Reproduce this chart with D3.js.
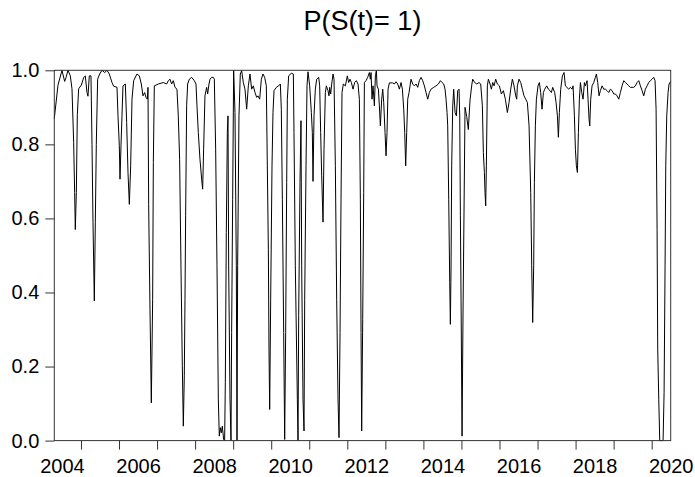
<!DOCTYPE html>
<html>
<head>
<meta charset="utf-8">
<script src="https://cdn.jsdelivr.net/npm/d3@7"></script>
<style>
  body { margin: 0; background: #fff; }
  text { font-family: "Liberation Sans", Arial, sans-serif; }
</style>
</head>
<body>
<script>
//======== smoothed regime probability P(S(t)=1) ========//
var titleText = 'P(S(t)= 1)';

var obsYear = [
  2004.299, 2004.396, 2004.501, 2004.571, 2004.606, 2004.659, 2004.720, 2004.764, 2004.808, 2004.834,
  2004.851, 2004.878, 2004.904, 2004.939, 2005.009, 2005.070, 2005.114, 2005.158, 2005.184, 2005.219,
  2005.263, 2005.290, 2005.316, 2005.351, 2005.377, 2005.403, 2005.438, 2005.491, 2005.552, 2005.623,
  2005.684, 2005.745, 2005.815, 2005.859, 2005.947, 2005.973, 2006.008, 2006.026, 2006.052, 2006.078,
  2006.104, 2006.166, 2006.201, 2006.236, 2006.271, 2006.306, 2006.341, 2006.385, 2006.472, 2006.534,
  2006.586, 2006.630, 2006.674, 2006.709, 2006.744, 2006.762, 2006.779, 2006.814, 2006.849, 2006.884,
  2006.902, 2006.928,
  2007.033, 2007.164, 2007.252, 2007.296, 2007.339, 2007.383, 2007.427, 2007.471, 2007.523, 2007.558,
  2007.593, 2007.628, 2007.664, 2007.690, 2007.716, 2007.734, 2007.751, 2007.777, 2007.804, 2007.848,
  2007.909, 2007.979, 2008.023, 2008.049, 2008.084, 2008.128, 2008.172, 2008.198, 2008.224, 2008.259,
  2008.303, 2008.330, 2008.365, 2008.391, 2008.435, 2008.478, 2008.505, 2008.540, 2008.575, 2008.610,
  2008.636, 2008.662, 2008.689, 2008.715, 2008.750, 2008.776, 2008.794, 2008.820, 2008.847, 2008.864,
  2008.882, 2008.917, 2008.943, 2008.960, 2008.987, 2009.013, 2009.048, 2009.083, 2009.101, 2009.118,
  2009.153, 2009.188, 2009.223, 2009.267, 2009.311, 2009.355, 2009.399, 2009.442, 2009.486, 2009.530,
  2009.574, 2009.618,
  2009.653, 2009.697, 2009.741, 2009.784, 2009.828, 2009.872, 2009.898, 2009.925, 2009.942, 2009.960,
  2009.986, 2010.021, 2010.047, 2010.074, 2010.135, 2010.196, 2010.240, 2010.266, 2010.293, 2010.328,
  2010.354, 2010.380, 2010.407, 2010.424, 2010.459, 2010.529, 2010.582, 2010.599, 2010.634, 2010.687,
  2010.705, 2010.722, 2010.757, 2010.783, 2010.801, 2010.836, 2010.862, 2010.880, 2010.915, 2010.941,
  2010.967, 2011.011, 2011.055, 2011.081, 2011.099, 2011.125, 2011.160, 2011.195, 2011.248, 2011.274,
  2011.300, 2011.327, 2011.362, 2011.388, 2011.423, 2011.449, 2011.493, 2011.519, 2011.537, 2011.563,
  2011.590, 2011.625, 2011.651, 2011.686, 2011.721, 2011.756, 2011.782, 2011.809, 2011.835, 2011.861,
  2011.896, 2011.949, 2012.001, 2012.036, 2012.072, 2012.107, 2012.150, 2012.194, 2012.238, 2012.282,
  2012.317, 2012.343, 2012.361, 2012.378,
  2012.405, 2012.431, 2012.449, 2012.492, 2012.536, 2012.580, 2012.606, 2012.624, 2012.650, 2012.676,
  2012.712, 2012.738, 2012.764, 2012.782, 2012.817, 2012.843, 2012.869, 2012.904, 2012.931, 2012.957,
  2012.992, 2013.018, 2013.044, 2013.071, 2013.106, 2013.193, 2013.237, 2013.281, 2013.325, 2013.369,
  2013.413, 2013.448, 2013.483, 2013.509, 2013.535, 2013.561, 2013.588, 2013.623, 2013.675, 2013.719,
  2013.763, 2013.807, 2013.851, 2013.894, 2013.938, 2013.982, 2014.026, 2014.070, 2014.114, 2014.157,
  2014.201, 2014.271, 2014.333, 2014.394, 2014.447, 2014.490, 2014.534, 2014.569, 2014.595, 2014.622,
  2014.639, 2014.666, 2014.692, 2014.709, 2014.727, 2014.744, 2014.771, 2014.797, 2014.832, 2014.867,
  2014.902, 2014.937, 2014.955, 2014.972, 2014.990, 2015.016,
  2015.042, 2015.068, 2015.094, 2015.139, 2015.181, 2015.226, 2015.271,
  2015.296, 2015.348, 2015.401, 2015.462, 2015.506, 2015.550, 2015.576, 2015.603, 2015.620, 2015.638,
  2015.655, 2015.681, 2015.708, 2015.751, 2015.787, 2015.822, 2015.857, 2015.900, 2015.944, 2015.997,
  2016.049, 2016.102, 2016.155, 2016.207, 2016.251, 2016.295, 2016.339, 2016.382, 2016.426, 2016.453,
  2016.470, 2016.514, 2016.558, 2016.601, 2016.645, 2016.689, 2016.733, 2016.777, 2016.821, 2016.847,
  2016.873, 2016.899, 2016.917, 2016.943, 2016.970, 2017.013, 2017.048, 2017.083, 2017.118, 2017.154,
  2017.189, 2017.241, 2017.285, 2017.329, 2017.364, 2017.399, 2017.451, 2017.487, 2017.522, 2017.548,
  2017.574, 2017.609, 2017.653, 2017.697, 2017.732,
  2017.820, 2017.864, 2017.907, 2017.934, 2017.969, 2017.995, 2018.021, 2018.048, 2018.074, 2018.100,
  2018.127, 2018.162, 2018.197, 2018.232, 2018.258, 2018.302, 2018.328, 2018.354, 2018.372, 2018.398,
  2018.433, 2018.477, 2018.521, 2018.547, 2018.582, 2018.617, 2018.652, 2018.696, 2018.740, 2018.784,
  2018.828, 2018.871, 2018.915, 2018.959, 2019.003, 2019.047, 2019.090, 2019.134, 2019.178, 2019.222,
  2019.266, 2019.309, 2019.353, 2019.397, 2019.441, 2019.485, 2019.529, 2019.572, 2019.616, 2019.660,
  2019.704, 2019.748, 2019.791, 2019.835, 2019.879, 2019.923, 2019.967, 2020.010, 2020.054, 2020.089,
  2020.116, 2020.142, 2020.159, 2020.186, 2020.212, 2020.265, 2020.300, 2020.326, 2020.352, 2020.370,
  2020.396, 2020.431, 2020.457, 2020.500
];

var probS1 = [
  0.87, 0.96, 1.00, 0.97, 0.98, 1.00, 0.985, 0.95, 0.805, 0.67,
  0.57, 0.67, 0.88, 0.95, 0.96, 0.98, 0.985, 0.94, 0.93, 0.985,
  0.985, 0.80, 0.59, 0.377, 0.59, 0.80, 0.976, 0.99, 1.00, 0.994,
  1.00, 0.99, 0.967, 0.957, 0.954, 0.877, 0.796, 0.706, 0.796, 0.877,
  0.958, 0.963, 0.859, 0.724, 0.638, 0.742, 0.922, 0.972, 0.99, 0.985,
  0.963, 0.931, 0.94, 0.927, 0.922, 0.954, 0.638, 0.355, 0.102, 0.382,
  0.751, 0.958,
  0.963, 0.967, 0.963, 0.972, 0.976, 0.963, 0.972, 0.954, 0.949, 0.877,
  0.76, 0.472, 0.202, 0.039, 0.175, 0.382, 0.607, 0.904, 0.963, 0.976,
  0.981, 0.972, 0.963, 0.904, 0.832, 0.76, 0.706, 0.679, 0.787, 0.931,
  0.954, 0.936, 0.963, 0.976, 0.981, 0.981, 0.976, 0.787, 0.472, 0.112,
  0.012, 0.035, 0.021, 0.039, 0.003, 0.0, 0.156, 0.562, 0.832, 0.877,
  0.472, 0.112, 0.0, 0.292, 0.652, 1.0, 0.886, 0.472, 0.0, 0.472,
  0.877, 0.99, 0.999, 0.967, 0.949, 0.895, 0.958, 0.99, 0.949, 0.958,
  0.94, 0.927,
  0.931, 0.922, 0.976, 0.99, 0.981, 0.958, 0.742, 0.517, 0.247, 0.084,
  0.382, 0.742, 0.886, 0.945, 0.954, 0.958, 0.963, 0.895, 0.652, 0.292,
  0.003, 0.292, 0.697, 0.922, 0.985, 0.992, 0.99, 0.832, 0.472, 0.112,
  0.0, 0.337, 0.697, 0.864, 0.472, 0.112, 0.026, 0.382, 0.742, 0.958,
  0.996, 0.958, 0.886, 0.832, 0.70, 0.877, 0.949, 0.976, 0.981, 0.958,
  0.832, 0.715, 0.59, 0.787, 0.94, 0.958, 0.945, 0.931, 0.954, 0.936,
  0.963, 0.99, 0.976, 0.742, 0.382, 0.112, 0.008, 0.292, 0.652, 0.94,
  0.963, 0.958, 0.985, 0.967, 0.976, 0.967, 0.949, 0.967, 0.972, 0.963,
  0.922, 0.652, 0.292, 0.026,
  0.328, 0.67, 0.967, 0.972, 0.981, 0.994, 0.976, 0.994, 0.922, 0.958,
  0.904, 0.985, 0.999, 0.958, 0.949, 0.904, 0.85, 0.922, 0.949, 0.913,
  0.832, 0.769, 0.832, 0.949, 0.966, 0.966, 0.963, 0.969, 0.963, 0.949,
  0.967, 0.949, 0.895, 0.832, 0.742, 0.832, 0.922, 0.94, 0.976, 0.963,
  0.958, 0.963, 0.954, 0.972, 0.981, 0.972, 0.958, 0.94, 0.922, 0.94,
  0.949, 0.954, 0.958, 0.963, 0.972, 0.967, 0.963, 0.949, 0.922, 0.886,
  0.85, 0.652, 0.427, 0.314, 0.472, 0.742, 0.904, 0.949, 0.886, 0.877,
  0.945, 0.949, 0.877, 0.607, 0.382, 0.012,
  0.35, 0.62, 0.90, 0.875, 0.84, 0.92, 0.96,
  0.976, 0.967, 0.963, 0.967, 0.963, 0.904, 0.778, 0.724, 0.67, 0.634,
  0.742, 0.958, 0.976, 0.963, 0.949, 0.967, 0.958, 0.976, 0.963, 0.958,
  0.936, 0.945, 0.922, 0.886, 0.913, 0.949, 0.976, 0.958, 0.931, 0.922,
  0.958, 0.976, 0.967, 0.949, 0.931, 0.922, 0.913, 0.85, 0.67, 0.472,
  0.319, 0.472, 0.697, 0.85, 0.922, 0.958, 0.967, 0.94, 0.895, 0.94,
  0.949, 0.958, 0.949, 0.945, 0.94, 0.954, 0.94, 0.913, 0.877, 0.819,
  0.886, 0.949, 0.985, 0.994, 0.958,
  0.949, 0.954, 0.949, 0.958, 0.877, 0.787, 0.742, 0.724, 0.832, 0.922,
  0.967, 0.94, 0.922, 0.967, 0.958, 0.972, 0.922, 0.868, 0.85, 0.922,
  0.958, 0.967, 0.981, 0.99, 0.967, 0.931, 0.945, 0.958, 0.949, 0.949,
  0.945, 0.94, 0.949, 0.945, 0.936, 0.936, 0.931, 0.922, 0.94, 0.958,
  0.972, 0.967, 0.963, 0.958, 0.954, 0.954, 0.954, 0.958, 0.967, 0.972,
  0.958, 0.945, 0.931, 0.949, 0.958, 0.967, 0.972, 0.976, 0.981, 0.972,
  0.895, 0.571, 0.247, 0.112, 0.0, 0.0, 0.0, 0.129, 0.472, 0.742,
  0.877, 0.94, 0.963, 0.97
];

var yTicks = [0, 0.2, 0.4, 0.6, 0.8, 1.0];
var yearTicks = d3.range(2005, 2021);            // tick marks at year starts
var yearLabels = [2004, 2006, 2008, 2010, 2012, 2014, 2016, 2018, 2020];

// margins and size
var W = 695, H = 477;
var margin = {top: 70.3, right: 24.3, bottom: 36.4, left: 54.3};
var width = W - margin.left - margin.right,
    height = H - margin.top - margin.bottom;

var data = obsYear.map(function(t, i) { return {t: t, p: probS1[i]}; });

var x = d3.scaleLinear()
  .domain([obsYear[0], obsYear[obsYear.length - 1]])
  .range([0, width]);

var y = d3.scaleLinear()
  .domain([0, 1])
  .range([height, 0]);

var svg = d3.select('body').append('svg')
  .attr('width', W)
  .attr('height', H);

var g = svg.append('g')
  .attr('transform', 'translate(' + margin.left + ',' + margin.top + ')');

// title
svg.append('text')
  .attr('x', margin.left + width / 2)
  .attr('y', 30)
  .attr('text-anchor', 'middle')
  .style('font-size', '27px')
  .style('fill', '#000')
  .text(titleText);

// y axis
var yAxis = g.append('g')
  .call(d3.axisLeft(y).tickValues(yTicks).tickFormat(d3.format('.1f'))
    .tickSize(9).tickPadding(6).tickSizeOuter(0));

// x axis: tick marks at year boundaries
var xTickAxis = g.append('g')
  .attr('transform', 'translate(0,' + height + ')')
  .call(d3.axisBottom(x).tickValues(yearTicks).tickFormat('')
    .tickSize(9).tickSizeOuter(0));

// x axis: labels centred on the year
var xLabelAxis = g.append('g')
  .attr('transform', 'translate(0,' + height + ')')
  .call(d3.axisBottom(x).tickValues(yearLabels.map(function(d) { return d + 0.5; }))
    .tickFormat(function(d) { return Math.floor(d); })
    .tickSize(0).tickPadding(18).tickSizeOuter(0));

[yAxis, xTickAxis, xLabelAxis].forEach(function(a) {
  a.select('.domain').remove();
  a.selectAll('line').attr('stroke', '#333');
  a.selectAll('text')
    .style('font-size', '20px')
    .style('font-family', '"Liberation Sans", Arial, sans-serif')
    .attr('fill', '#000');
});

// series line
var line = d3.line()
  .x(function(d) { return x(d.t); })
  .y(function(d) { return y(d.p); });

g.append('path')
  .datum(data)
  .attr('fill', 'none')
  .attr('stroke', '#000')
  .attr('stroke-width', 1)
  .attr('d', line);

// frame
g.append('rect')
  .attr('x', 0)
  .attr('y', 0)
  .attr('width', width)
  .attr('height', height)
  .attr('fill', 'none')
  .attr('stroke', '#333')
  .attr('stroke-width', 1);
</script>
</body>
</html>
